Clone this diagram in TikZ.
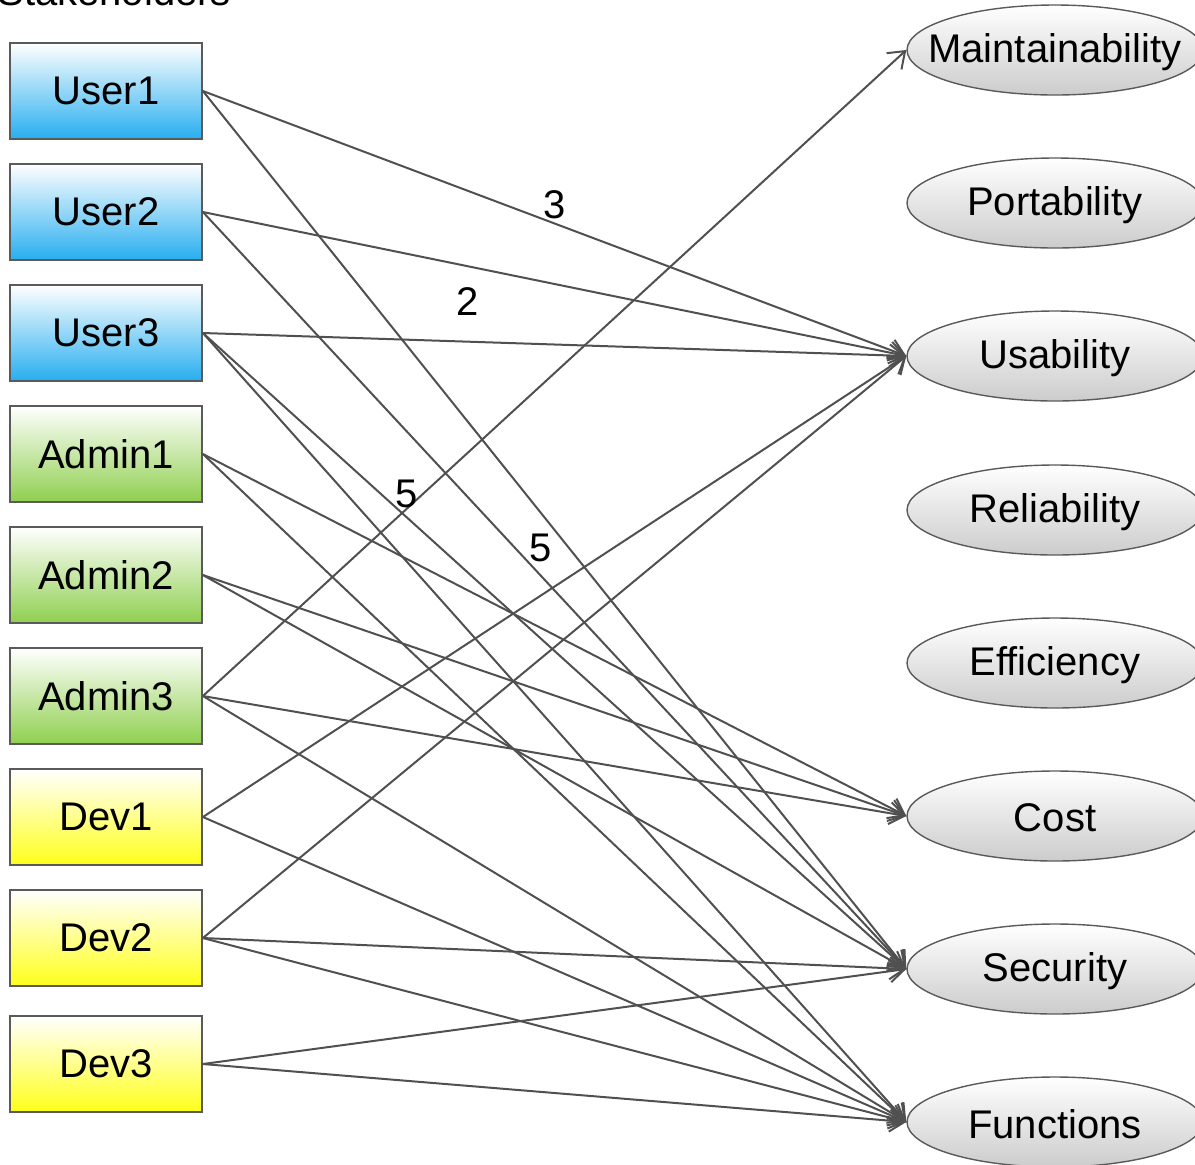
\documentclass[tikz,border=0pt]{standalone}
\usepackage{fontspec}
\setmainfont{Liberation Sans}
\usetikzlibrary{shapes.geometric,arrows.meta}
\definecolor{userblue}{HTML}{27AEEF}
\definecolor{admingreen}{HTML}{8FCF4F}
\definecolor{devyellow}{HTML}{FFFF1A}
\definecolor{ellgray}{HTML}{CCCCCC}
\definecolor{boxgray}{HTML}{5A5A5A}
\definecolor{linegray}{HTML}{505050}
\tikzset{
  actor/.style={draw=boxgray, line width=0.9pt, minimum width=96pt, minimum height=48pt, inner sep=0pt, font=\fontsize{20}{24}\selectfont},
  user/.style={actor, top color=white, bottom color=userblue},
  admin/.style={actor, top color=white, bottom color=admingreen},
  dev/.style={actor, top color=white, bottom color=devyellow},
  quality/.style={ellipse, draw=boxgray, line width=0.7pt, minimum width=148pt, minimum height=45pt, inner sep=0pt, top color=white, bottom color=ellgray,
    label={[font=\fontsize{20}{24}\selectfont, inner sep=0pt, yshift=-1pt]center:#1}},
  link/.style={draw=linegray, line width=1pt, -{Straight Barb[length=7.5pt,width=11pt]}},
  weight/.style={font=\fontsize{20}{24}\selectfont, inner sep=2pt}
}
\begin{document}
\begin{tikzpicture}[x=0.5pt,y=-0.5pt]
\useasboundingbox (0,0) rectangle (1195,1164);
\node[font=\fontsize{20}{24}\selectfont, anchor=base west, inner sep=0pt] (title) at (-3,5) {Stakeholders};

% stakeholders
\node[user] (user1) at (106,91) {User1};
\node[user] (user2) at (106,212) {User2};
\node[user] (user3) at (106,333) {User3};
\node[admin] (admin1) at (106,454) {Admin1};
\node[admin] (admin2) at (106,575) {Admin2};
\node[admin] (admin3) at (106,696) {Admin3};
\node[dev] (dev1) at (106,817) {Dev1};
\node[dev] (dev2) at (106,938) {Dev2};
\node[dev] (dev3) at (106,1064) {Dev3};

% quality attributes
\node[quality=Maintainability] (maint) at (1055,50) {};
\node[quality=Portability] (port) at (1055,203) {};
\node[quality=Usability] (usab) at (1055,356) {};
\node[quality=Reliability] (reli) at (1055,510) {};
\node[quality=Efficiency] (effi) at (1055,663) {};
\node[quality=Cost] (cost) at (1055,816) {};
\node[quality=Security] (secu) at (1055,969) {};
\node[quality=Functions] (func) at (1055,1122) {};

\draw[link] (user1.east) -- node[weight, pos=0.5, above] {3} (usab.west);
\draw[link] (user1.east) -- node[weight, pos=0.52, left=6pt] {5} (secu.west);
\draw[link] (user2.east) -- node[weight, pos=0.376, below=8pt] {2} (usab.west);
\draw[link] (user2.east) -- (secu.west);
\draw[link] (user3.east) -- (usab.west);
\draw[link] (user3.east) -- (secu.west);
\draw[link] (user3.east) -- (func.west);
\draw[link] (admin1.east) -- (cost.west);
\draw[link] (admin1.east) -- (func.west);
\draw[link] (admin2.east) -- (cost.west);
\draw[link] (admin2.east) -- (secu.west);
\draw[link] (admin3.east) -- node[weight, pos=0.29, above, inner sep=0pt] {5} (maint.west);
\draw[link] (admin3.east) -- (cost.west);
\draw[link] (admin3.east) -- (func.west);
\draw[link] (dev1.east) -- (usab.west);
\draw[link] (dev1.east) -- (func.west);
\draw[link] (dev2.east) -- (usab.west);
\draw[link] (dev2.east) -- (secu.west);
\draw[link] (dev2.east) -- (func.west);
\draw[link] (dev3.east) -- (secu.west);
\draw[link] (dev3.east) -- (func.west);
\end{tikzpicture}
\end{document}
